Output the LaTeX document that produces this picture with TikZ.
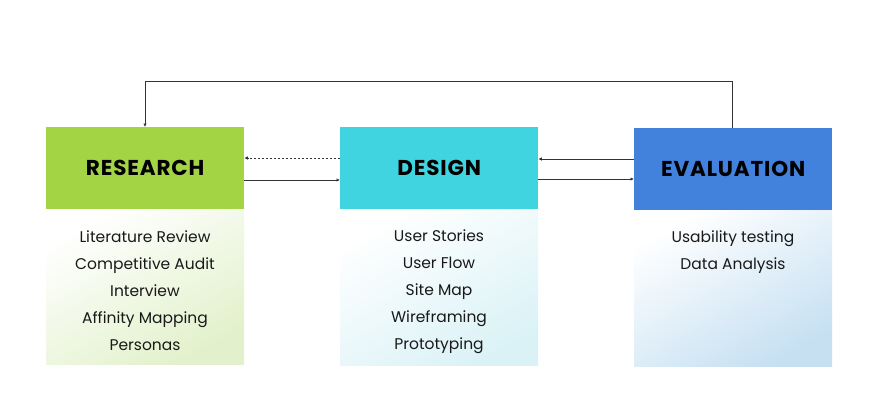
\documentclass[tikz,border=0pt]{standalone}
\usepackage{fontspec}
\setmainfont{Poppins}
\newfontfamily\headfont{Poppins}[UprightFont=* Bold]
\usetikzlibrary{arrows.meta}
\definecolor{resg}{HTML}{A2D443}
\definecolor{desc}{HTML}{40D4E0}
\definecolor{evab}{HTML}{4281DC}
\definecolor{resl}{HTML}{E2F1CB}
\definecolor{desl}{HTML}{DAF2F6}
\definecolor{eval}{HTML}{C6E0F2}
\definecolor{linec}{HTML}{333333}
\tikzset{
  x=1pt, y=-1pt,
  head/.style={minimum width=198pt, minimum height=82pt, inner sep=0pt, font=\headfont\fontsize{21.5}{21.5}\selectfont, text=black},
  item/.style={font=\fontsize{15.5}{15.5}\selectfont, inner sep=0pt, text=black!90, anchor=base},
  conn/.style={draw=linec, line width=0.9pt, -{Latex[length=3.5pt,width=3.5pt]}},
}
\begin{document}
\begin{tikzpicture}
\useasboundingbox (0,0) rectangle (878,418);
% bodies
\shade[top color=white, bottom color=resl, shading angle=30] (46,209) rectangle (244,364);
\shade[top color=white, bottom color=desl, shading angle=30] (340,209) rectangle (538,365);
\shade[top color=white, bottom color=eval, shading angle=30] (634,210) rectangle (832,366);
% headers
\node[head, fill=resg, anchor=north west] (res) at (46,127) {\addfontfeature{LetterSpace=4}RESEARCH};
\node[head, fill=desc, anchor=north west] (des) at (340,127) {\addfontfeature{LetterSpace=4}DESIGN};
\node[head, fill=evab, anchor=north west] (eva) at (634,128) {\addfontfeature{LetterSpace=4}EVALUATION};
% items
\node[item] (r1) at (145,242) {Literature Review};
\node[item] (r2) at (145,269) {Competitive Audit};
\node[item] (r3) at (145,296) {Interview};
\node[item] (r4) at (145,323) {Affinity Mapping};
\node[item] (r5) at (145,350) {Personas};
\node[item] (d1) at (439,241) {User Stories};
\node[item] (d2) at (439,268) {User Flow};
\node[item] (d3) at (439,295) {Site Map};
\node[item] (d4) at (439,322) {Wireframing};
\node[item] (d5) at (439,349) {Prototyping};
\node[item] (e1) at (733,242) {Usability testing};
\node[item] (e2) at (733,269) {Data Analysis};
% connectors
\coordinate (tl) at (145,81);
\coordinate (tr) at (732,81);
\draw[conn] (eva.north -| tr) -- (tr) -- (tl) -- (res.north -| tl);
\draw[conn, dashed, dash pattern=on 2.5pt off 1.5pt] (des.west |- 0,158) -- (res.east |- 0,158);
\draw[conn] (res.east |- 0,180) -- (des.west |- 0,180);
\draw[conn] (eva.west |- 0,159) -- (des.east |- 0,159);
\draw[conn] (des.east |- 0,179) -- (eva.west |- 0,179);
\end{tikzpicture}
\end{document}
